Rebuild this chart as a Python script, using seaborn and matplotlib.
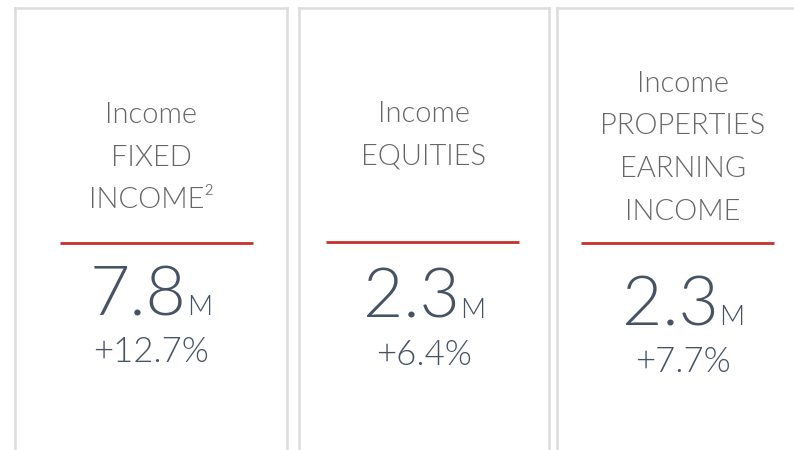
"""
KPI cards: income by asset class.
"""

import matplotlib
matplotlib.use('Agg')
import matplotlib.pyplot as plt
import seaborn as sns

# data
categories = ['FIXED\nINCOME²', 'EQUITIES', 'PROPERTIES\nEARNING\nINCOME']
title_prefix = 'Income'
values = ['7.8', '2.3', '2.3']
units = ['M', 'M', 'M']
changes = ['+12.7%', '+6.4%', '+7.7%']

W, H = 794, 450

# card geometry in figure pixels
CARD_X = [(15, 287), (299, 549), (557, 798)]
CARD_TOP, CARD_BOTTOM = 8, 480
TEXT_CX = [151, 424, 683]
TITLE_BASE = [123, 122, 92]
LINE_STEP = 42.5
RULE_X = [60, 326, 581]
RULE_LEN = 193
RULE_Y = [243, 242, 243]
NUM_BASE = [315, 318, 325]
PCT_BASE = [362, 365, 372]

TITLE_COLOR = '#666666'
NUM_COLOR = '#465365'
RULE_COLOR = '#c9302c'
BORDER_COLOR = '#dcdcdc'

sns.set_theme(style='white')
plt.rcParams['font.family'] = ['Lato', 'DejaVu Sans']

fig = plt.figure(figsize=(W / 100, H / 100), dpi=100)
fig.patch.set_facecolor('white')
renderer = fig.canvas.get_renderer()

for i, cat in enumerate(categories):
    x0, x1 = CARD_X[i]
    ax = fig.add_axes([x0 / W, 1 - CARD_BOTTOM / H, (x1 - x0) / W, (CARD_BOTTOM - CARD_TOP) / H])
    ax.set_xlim(x0, x1)
    ax.set_ylim(CARD_BOTTOM, CARD_TOP)
    ax.set_xticks([])
    ax.set_yticks([])
    ax.set_facecolor('white')
    for side in ['left', 'right', 'top']:
        ax.spines[side].set_color(BORDER_COLOR)
        ax.spines[side].set_linewidth(1.8)
    ax.spines['bottom'].set_visible(False)

    cx = TEXT_CX[i]
    lines = [title_prefix] + cat.split('\n')
    for k, line in enumerate(lines):
        ax.text(cx, TITLE_BASE[i] + k * LINE_STEP, line, ha='center', va='baseline',
                fontsize=21, fontweight=300, color=TITLE_COLOR)

    ax.plot([RULE_X[i], RULE_X[i] + RULE_LEN], [RULE_Y[i], RULE_Y[i]],
            color=RULE_COLOR, lw=2.0, solid_capstyle='butt')

    num = ax.text(cx, NUM_BASE[i], values[i], ha='left', va='baseline',
                  fontsize=50, fontweight=300, color=NUM_COLOR)
    unit = ax.text(cx, NUM_BASE[i], units[i], ha='left', va='baseline',
                   fontsize=20, fontweight=300, color=NUM_COLOR)
    w1 = num.get_window_extent(renderer).width
    w2 = unit.get_window_extent(renderer).width
    gap = 0
    left = cx - (w1 + gap + w2) / 2
    num.set_x(left)
    unit.set_x(left + w1 + gap)

    ax.text(cx, PCT_BASE[i], changes[i], ha='center', va='baseline',
            fontsize=25, fontweight=300, color=NUM_COLOR)

fig.savefig('out.png', dpi=100, facecolor='white')
